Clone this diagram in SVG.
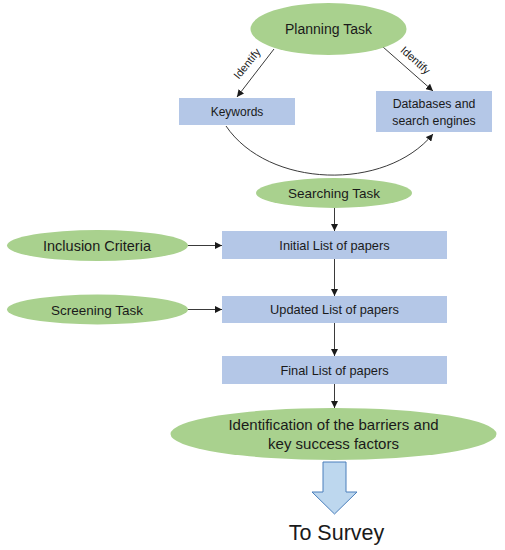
<svg xmlns="http://www.w3.org/2000/svg" width="505" height="550" viewBox="0 0 505 550">
<style>
  .ell { fill: #a9d18e; }
  .box { fill: #b4c7e7; }
  .t { font-family: "Liberation Sans", Arial, sans-serif; fill: #1a1a1a; text-anchor: middle; }
  .con { fill: none; stroke: #3a3a3a; stroke-width: 1; }
</style>
<defs>
  <marker id="ah" viewBox="0 0 10 10" refX="10" refY="5" markerWidth="7" markerHeight="7" markerUnits="userSpaceOnUse" orient="auto">
    <path d="M0,0 L10,5 L0,10 z" fill="#1a1a1a"/>
  </marker>
</defs>
<rect width="505" height="550" fill="#ffffff"/>

<g id="connectors">
  <line class="con" x1="274" y1="49" x2="237" y2="97" marker-end="url(#ah)"/>
  <line class="con" x1="383" y1="47" x2="433" y2="91" marker-end="url(#ah)"/>
  <path class="con" d="M226,126 C268,188 385,192 433,134" marker-end="url(#ah)"/>
  <line class="con" x1="334.5" y1="208" x2="334.5" y2="231" marker-end="url(#ah)"/>
  <line class="con" x1="188" y1="245.5" x2="222" y2="245.5" marker-end="url(#ah)"/>
  <line class="con" x1="188" y1="309.5" x2="222" y2="309.5" marker-end="url(#ah)"/>
  <line class="con" x1="334.5" y1="259" x2="334.5" y2="296" marker-end="url(#ah)"/>
  <line class="con" x1="334.5" y1="323" x2="334.5" y2="356" marker-end="url(#ah)"/>
  <line class="con" x1="334.5" y1="384" x2="334.5" y2="408" marker-end="url(#ah)"/>
  <text class="t" font-size="11" transform="translate(250,66) rotate(-51)">Identify</text>
  <text class="t" font-size="11" transform="translate(413,63) rotate(42)">Identify</text>
</g>

<g id="planning">
  <ellipse class="ell" cx="328.5" cy="29" rx="78" ry="26"/>
  <text class="t" x="328.5" y="34" font-size="14">Planning Task</text>
</g>
<g id="keywords">
  <rect class="box" x="179" y="98" width="116" height="27"/>
  <text class="t" x="237" y="116" font-size="12">Keywords</text>
</g>
<g id="databases">
  <rect class="box" x="376" y="91" width="116" height="41"/>
  <text class="t" x="434" y="108" font-size="12.3">Databases and</text>
  <text class="t" x="434" y="125" font-size="12.3">search engines</text>
</g>
<g id="searching">
  <ellipse class="ell" cx="334" cy="193" rx="78" ry="15"/>
  <text class="t" x="334" y="198" font-size="13.5">Searching Task</text>
</g>
<g id="inclusion">
  <ellipse class="ell" cx="97.5" cy="245.5" rx="90.5" ry="15.5"/>
  <text class="t" x="97" y="250.5" font-size="14.5">Inclusion Criteria</text>
</g>
<g id="initial">
  <rect class="box" x="222" y="231" width="225" height="28"/>
  <text class="t" x="334.5" y="249.5" font-size="12.8">Initial List of papers</text>
</g>
<g id="screening">
  <ellipse class="ell" cx="97.5" cy="309.5" rx="90.5" ry="15"/>
  <text class="t" x="97" y="314.5" font-size="13.5">Screening Task</text>
</g>
<g id="updated">
  <rect class="box" x="222" y="296" width="225" height="27"/>
  <text class="t" x="334.5" y="314" font-size="12.8">Updated List of papers</text>
</g>
<g id="final">
  <rect class="box" x="222" y="356" width="225" height="28"/>
  <text class="t" x="334.5" y="374.5" font-size="12.8">Final List of papers</text>
</g>
<g id="identification">
  <ellipse class="ell" cx="333.5" cy="434" rx="163" ry="26"/>
  <text class="t" x="333.5" y="430" font-size="15">Identification of the barriers and</text>
  <text class="t" x="333.5" y="449" font-size="15">key success factors</text>
</g>
<g id="to-survey">
  <path d="M323,462 L346,462 L346,492 L357,492 L334.5,514 L312,492 L323,492 Z" fill="#bdd7ee" stroke="#4a7ebb" stroke-width="1"/>
  <text class="t" x="336.5" y="540" font-size="21.5">To Survey</text>
</g>
</svg>
